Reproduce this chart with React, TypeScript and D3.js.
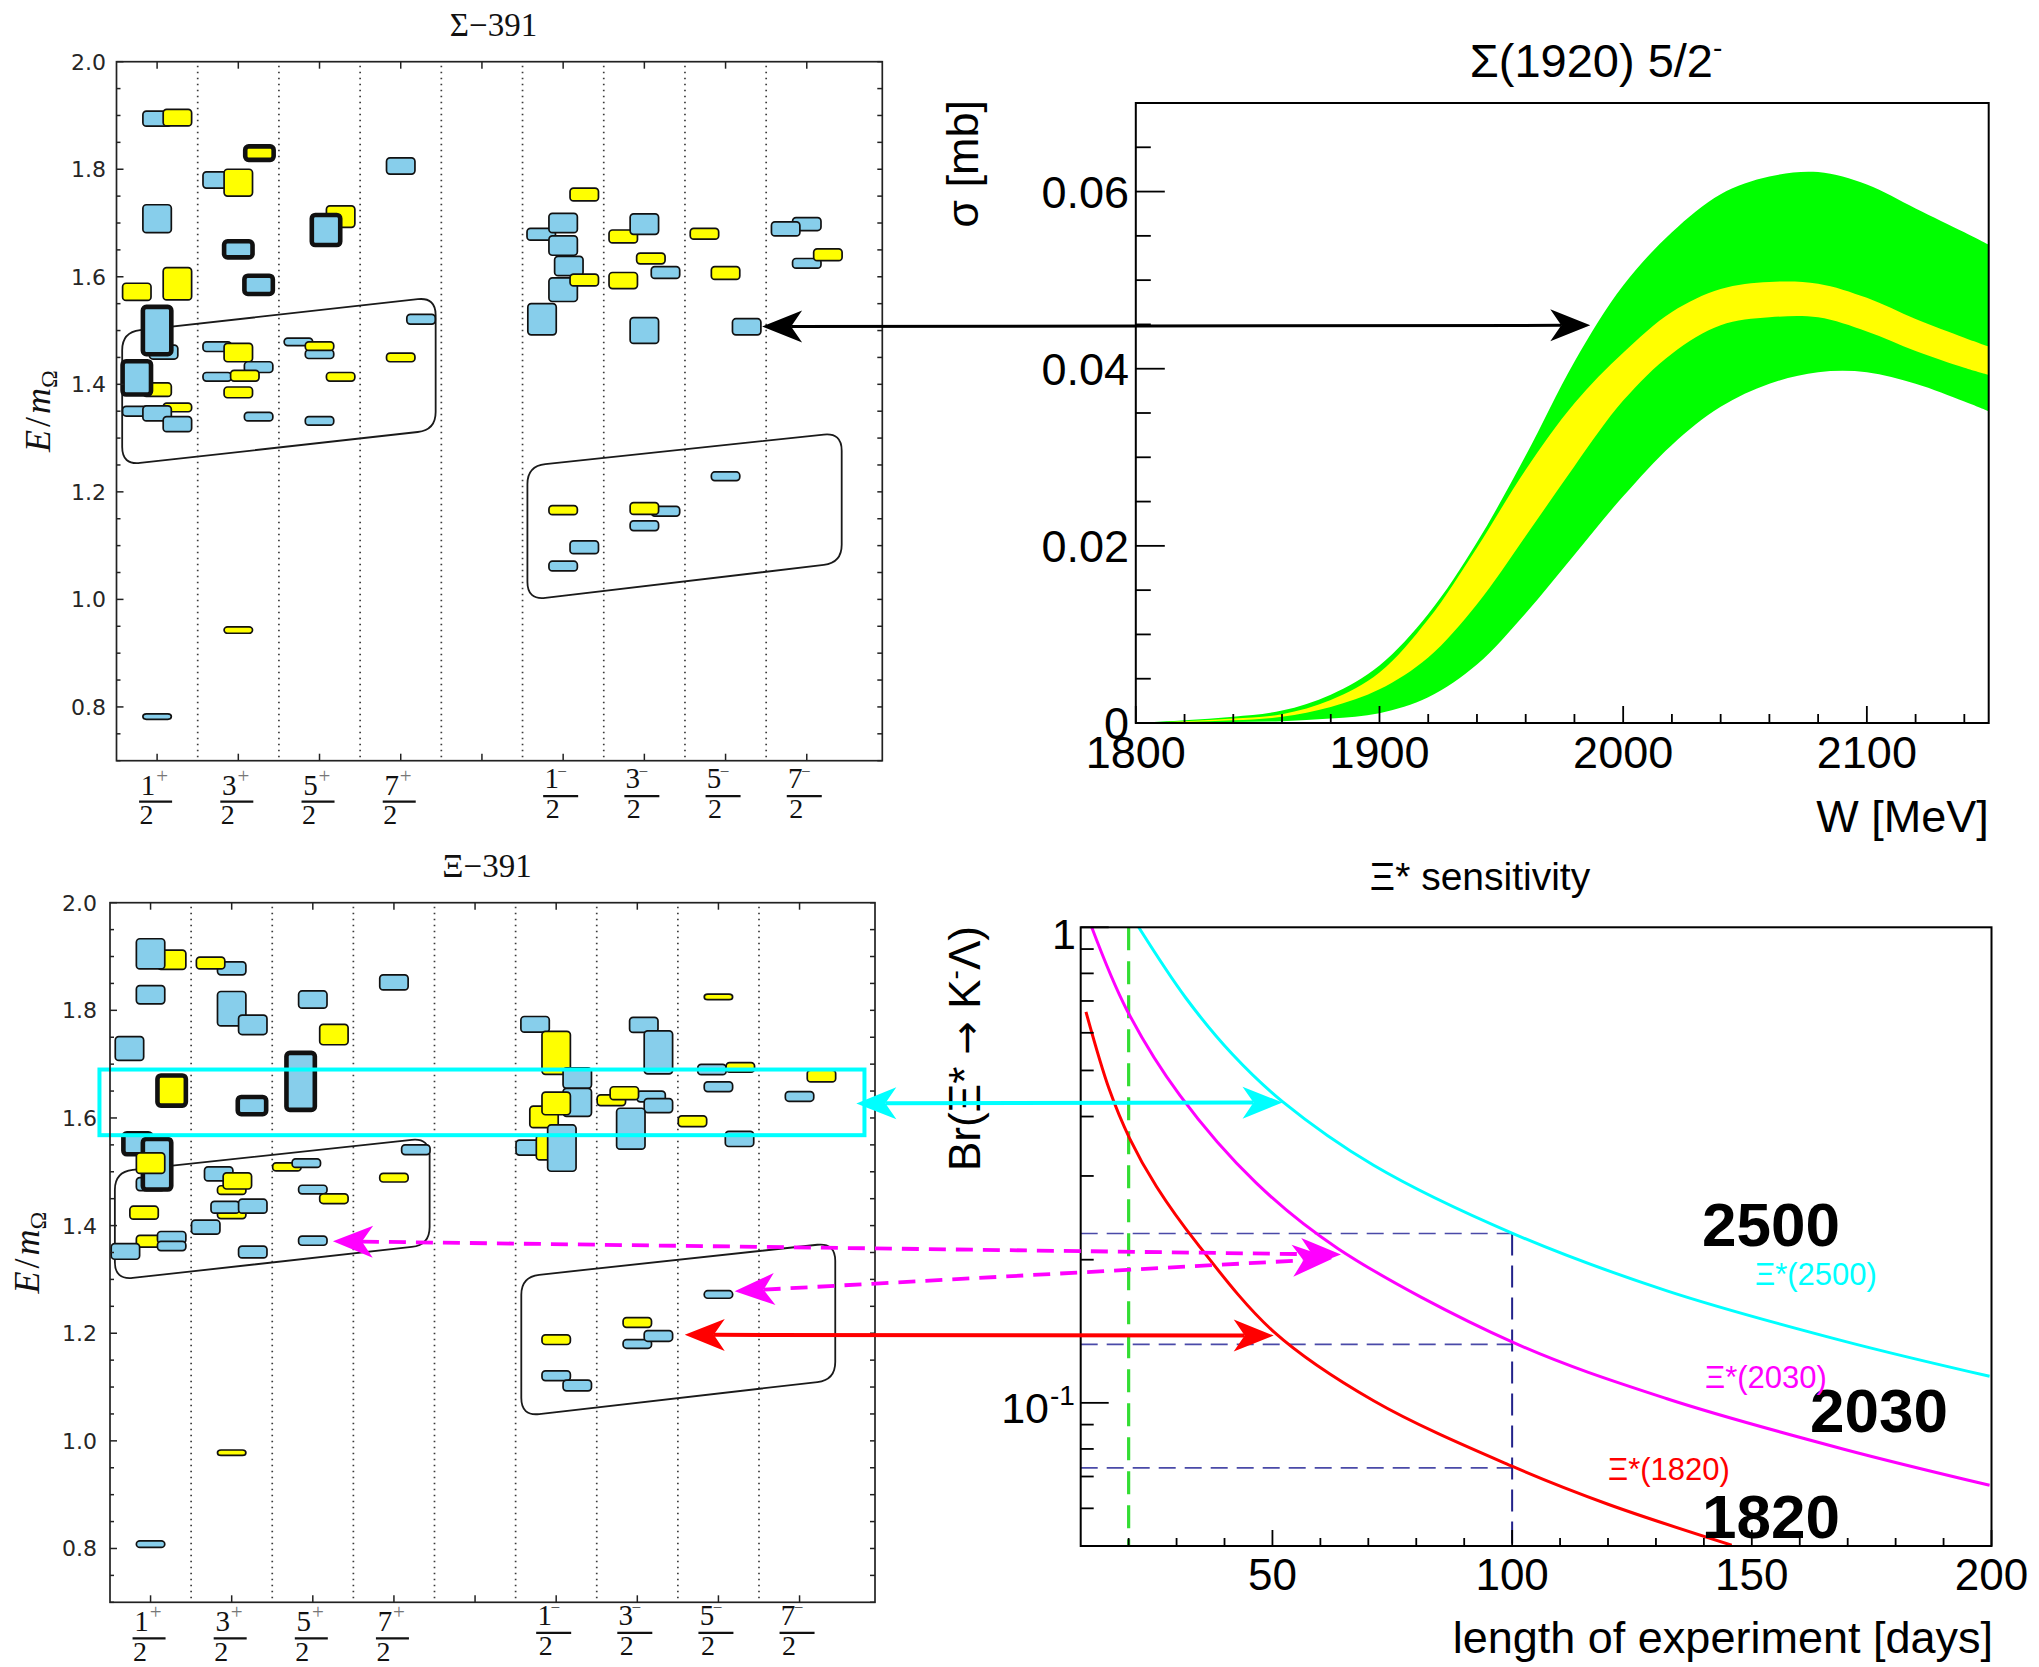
import React from 'react';
import * as d3 from 'd3';

// ---------------- J^P categories of the spectrum panels ----------------
const jpNumerators = ['1', '3', '5', '7', '1', '3', '5', '7'];
const jpParities = ['+', '+', '+', '+', '−', '−', '−', '−'];
const jpSlots = [0, 1, 2, 3, 5, 6, 7, 8];
const energyTicks = [0.8, 1.0, 1.2, 1.4, 1.6, 1.8, 2.0];

// state: [J^P slot, offset in slot, E/m_Omega, half error, flavour (b = octet, y = decuplet), hybrid]
type State = [number, number, number, number, string, number];

const sigmaStates: State[] = [
  [0, 0, 1.894, 0.014, 'b', 0], [0, 0.25, 1.896, 0.0155, 'y', 0], [0, 0, 1.708, 0.026, 'b', 0],
  [0, -0.25, 1.572, 0.016, 'y', 0], [0, 0.25, 1.587, 0.03, 'y', 0], [0, 0.08, 1.46, 0.013, 'b', 0],
  [0, 0, 1.5, 0.044, 'b', 1], [0, 0, 1.39, 0.0125, 'y', 0], [0, -0.25, 1.412, 0.031, 'b', 1],
  [0, 0.25, 1.357, 0.008, 'y', 0], [0, -0.25, 1.35, 0.009, 'b', 0], [0, 0, 1.346, 0.014, 'b', 0],
  [0, 0.25, 1.326, 0.014, 'b', 0], [0, 0, 0.782, 0.005, 'b', 0],
  [1, -0.26, 1.78, 0.015, 'b', 0], [1, 0, 1.775, 0.025, 'y', 0], [1, 0.26, 1.83, 0.0125, 'y', 1],
  [1, 0, 1.651, 0.015, 'b', 1], [1, 0.25, 1.585, 0.017, 'b', 1], [1, -0.26, 1.47, 0.009, 'b', 0],
  [1, 0, 1.459, 0.017, 'y', 0], [1, 0.25, 1.432, 0.01, 'b', 0], [1, -0.26, 1.414, 0.008, 'b', 0],
  [1, 0.08, 1.416, 0.01, 'y', 0], [1, 0, 1.385, 0.01, 'y', 0], [1, 0.25, 1.34, 0.008, 'b', 0],
  [1, 0, 0.943, 0.006, 'y', 0],
  [2, 0.26, 1.712, 0.02, 'y', 0], [2, 0.08, 1.687, 0.028, 'b', 1], [2, -0.26, 1.479, 0.007, 'b', 0],
  [2, 0, 1.456, 0.008, 'b', 0], [2, 0, 1.471, 0.008, 'y', 0], [2, 0.26, 1.414, 0.008, 'y', 0],
  [2, 0, 1.332, 0.008, 'b', 0],
  [3, 0, 1.806, 0.015, 'b', 0], [3, 0.25, 1.521, 0.009, 'b', 0], [3, 0, 1.45, 0.008, 'y', 0],
  [5, 0.26, 1.753, 0.012, 'y', 0], [5, -0.27, 1.679, 0.011, 'b', 0], [5, 0, 1.7, 0.018, 'b', 0],
  [5, 0, 1.658, 0.018, 'b', 0], [5, 0.07, 1.62, 0.018, 'b', 0], [5, 0, 1.576, 0.022, 'b', 0],
  [5, 0.26, 1.594, 0.011, 'y', 0], [5, -0.26, 1.521, 0.029, 'b', 0],
  [5, 0, 1.166, 0.0085, 'y', 0], [5, 0.26, 1.097, 0.012, 'b', 0], [5, 0, 1.062, 0.009, 'b', 0],
  [6, -0.26, 1.675, 0.012, 'y', 0], [6, 0, 1.698, 0.019, 'b', 0], [6, 0.08, 1.634, 0.01, 'y', 0],
  [6, 0.26, 1.608, 0.011, 'b', 0], [6, -0.26, 1.593, 0.015, 'y', 0], [6, 0, 1.5, 0.024, 'b', 0],
  [6, 0.26, 1.164, 0.009, 'b', 0], [6, 0, 1.169, 0.011, 'y', 0], [6, 0, 1.137, 0.009, 'b', 0],
  [7, -0.26, 1.68, 0.01, 'y', 0], [7, 0, 1.607, 0.012, 'y', 0], [7, 0.26, 1.507, 0.015, 'b', 0],
  [7, 0, 1.229, 0.008, 'b', 0],
  [8, 0, 1.698, 0.012, 'b', 0], [8, -0.26, 1.689, 0.013, 'b', 0], [8, 0, 1.625, 0.009, 'b', 0],
  [8, 0.26, 1.641, 0.011, 'y', 0],
];

const xiStates: State[] = [
  [0, 0.26, 1.894, 0.018, 'y', 0], [0, 0, 1.905, 0.028, 'b', 0], [0, 0, 1.829, 0.017, 'b', 0],
  [0, -0.26, 1.729, 0.022, 'b', 0], [0, 0.26, 1.651, 0.028, 'y', 1], [0, 0, 1.477, 0.012, 'b', 0],
  [0, -0.16, 1.552, 0.0195, 'b', 1], [0, 0.08, 1.514, 0.047, 'b', 1], [0, 0, 1.516, 0.019, 'y', 0],
  [0, -0.08, 1.424, 0.012, 'y', 0], [0, 0, 1.371, 0.011, 'y', 0], [0, 0.26, 1.378, 0.011, 'b', 0],
  [0, 0.26, 1.362, 0.0085, 'b', 0], [0, -0.31, 1.352, 0.0145, 'b', 0], [0, 0, 0.808, 0.006, 'b', 0],
  [1, 0, 1.878, 0.012, 'b', 0], [1, -0.26, 1.888, 0.011, 'y', 0], [1, 0, 1.803, 0.032, 'b', 0],
  [1, 0.26, 1.773, 0.018, 'b', 0], [1, 0.25, 1.623, 0.016, 'b', 1], [1, -0.16, 1.496, 0.013, 'b', 0],
  [1, 0, 1.466, 0.008, 'y', 0], [1, 0.07, 1.483, 0.015, 'y', 0], [1, 0, 1.421, 0.008, 'y', 0],
  [1, -0.08, 1.434, 0.011, 'b', 0], [1, 0.26, 1.436, 0.013, 'b', 0], [1, -0.32, 1.397, 0.013, 'b', 0],
  [1, 0.26, 1.351, 0.011, 'b', 0], [1, 0, 0.978, 0.005, 'y', 0],
  [2, 0, 1.82, 0.016, 'b', 0], [2, 0.26, 1.755, 0.019, 'y', 0], [2, -0.15, 1.668, 0.053, 'b', 1],
  [2, -0.32, 1.509, 0.0075, 'y', 0], [2, -0.08, 1.516, 0.008, 'b', 0], [2, 0, 1.467, 0.008, 'b', 0],
  [2, 0.26, 1.45, 0.009, 'y', 0], [2, 0, 1.372, 0.0085, 'b', 0],
  [3, 0, 1.852, 0.014, 'b', 0], [3, 0, 1.489, 0.008, 'y', 0], [3, 0.27, 1.541, 0.009, 'b', 0],
  [5, -0.26, 1.774, 0.0145, 'b', 0], [5, 0, 1.721, 0.04, 'y', 0], [5, 0.26, 1.674, 0.019, 'b', 0],
  [5, 0.26, 1.629, 0.026, 'b', 0], [5, -0.15, 1.602, 0.02, 'y', 0], [5, 0, 1.627, 0.021, 'y', 0],
  [5, -0.32, 1.545, 0.014, 'b', 0], [5, -0.07, 1.545, 0.023, 'y', 0], [5, 0.07, 1.544, 0.043, 'b', 0],
  [5, 0, 1.188, 0.009, 'y', 0], [5, 0, 1.121, 0.009, 'b', 0], [5, 0.26, 1.103, 0.01, 'b', 0],
  [6, 0.08, 1.773, 0.014, 'b', 0], [6, 0.26, 1.722, 0.04, 'b', 0], [6, -0.32, 1.633, 0.01, 'y', 0],
  [6, 0.17, 1.64, 0.01, 'b', 0], [6, -0.16, 1.646, 0.012, 'y', 0], [6, 0.26, 1.623, 0.013, 'b', 0],
  [6, -0.08, 1.58, 0.038, 'b', 0], [6, 0, 1.22, 0.009, 'y', 0], [6, 0, 1.18, 0.008, 'b', 0],
  [6, 0.26, 1.195, 0.01, 'b', 0],
  [7, 0, 1.825, 0.005, 'y', 0], [7, -0.08, 1.69, 0.0095, 'b', 0], [7, 0.27, 1.694, 0.009, 'y', 0],
  [7, 0, 1.658, 0.009, 'b', 0], [7, -0.32, 1.594, 0.01, 'y', 0], [7, 0.26, 1.561, 0.014, 'b', 0],
  [7, 0, 1.272, 0.007, 'b', 0],
  [8, 0.27, 1.678, 0.011, 'y', 0], [8, 0, 1.64, 0.009, 'b', 0],
];

// grouping outlines (slot, E/m_Omega)
const sigmaPositiveRegion = [[-0.43, 1.497], [3.43, 1.562], [3.43, 1.315], [-0.43, 1.25]];
const sigmaNegativeRegion = [[4.56, 1.248], [8.43, 1.31], [8.43, 1.068], [4.56, 0.999]];
const xiPositiveRegion = [[-0.44, 1.5], [3.44, 1.563], [3.44, 1.364], [-0.44, 1.299]];
const xiNegativeRegion = [[4.57, 1.305], [8.44, 1.368], [8.44, 1.113], [4.57, 1.046]];
const xiHighlightSlots = [-0.63, 8.8];
const xiHighlightEnergy = [1.568, 1.69];

// ---------------- Sigma(1920) 5/2- cross section band ----------------
const wValues = [1800, 1820, 1840, 1860, 1880, 1900, 1920, 1940, 1960, 1980, 2000, 2020, 2040, 2060, 2080, 2100, 2120, 2140, 2150];
const greenUpper = [0, 0.0003, 0.0007, 0.0014, 0.0032, 0.0065, 0.0123, 0.0204, 0.0302, 0.0408, 0.0494, 0.0554, 0.0597, 0.0617, 0.0622, 0.0608, 0.0581, 0.0554, 0.054];
const yellowUpper = [0, 0.0002, 0.0005, 0.001, 0.0026, 0.0057, 0.0117, 0.0198, 0.0286, 0.0361, 0.0418, 0.0464, 0.049, 0.0498, 0.0496, 0.048, 0.0456, 0.0435, 0.0425];
const yellowLower = [0, 0.0001, 0.0003, 0.0007, 0.0018, 0.0038, 0.0074, 0.0134, 0.0211, 0.029, 0.0364, 0.0417, 0.0449, 0.0458, 0.0458, 0.0442, 0.042, 0.0401, 0.0393];
const greenLower = [0, 0, 0.0001, 0.0002, 0.0005, 0.0011, 0.0029, 0.0066, 0.0124, 0.019, 0.0256, 0.0314, 0.0357, 0.0383, 0.0396, 0.0396, 0.0383, 0.0363, 0.0352];
const crossXTicks = [1800, 1900, 2000, 2100];
const crossYTicks = [0, 0.02, 0.04, 0.06];

// ---------------- Xi* sensitivity ----------------
const xi2500Days = [22.1, 31.9, 41.7, 52.1, 71.1, 100.2, 132.3, 169, 199.6];
const xi2500Br = [1.0, 0.711, 0.54, 0.43, 0.316, 0.227, 0.172, 0.135, 0.1137];
const xi2030Days = [12.3, 19.6, 30.7, 46.6, 63.7, 100.2, 132.3, 169, 199.6];
const xi2030Br = [1.0, 0.671, 0.443, 0.29, 0.211, 0.134, 0.102, 0.08, 0.0671];
const xi1820Days = [11.1, 15.9, 20.2, 25.8, 34.4, 50.3, 71.1, 100.2, 120, 145.8];
const xi1820Br = [0.664, 0.458, 0.36, 0.285, 0.2156, 0.141, 0.101, 0.0734, 0.0612, 0.0502];
const sensXTicks = [50, 100, 150, 200];
const referenceDays = [20, 100];
const referenceBr = [0.227, 0.1327, 0.073];

// ---------------- fonts ----------------
const SANS = "'Liberation Sans', Arial, sans-serif";
const MPL = "'DejaVu Sans', sans-serif";
const SERIF = "'Liberation Serif', 'Times New Roman', serif";

// ---------------- scales ----------------
const sigmaFrame = { l: 116.5, r: 882.3, t: 61.7, b: 760.7 };
const xiFrame = { l: 110, r: 875, t: 902.7, b: 1602.3 };
const slotDomain = [-0.5, 8.93];
const xSig = d3.scaleLinear().domain(slotDomain).range([sigmaFrame.l, sigmaFrame.r]);
const ySig = d3.scaleLinear().domain([0.7, 2.0]).range([sigmaFrame.b, sigmaFrame.t]);
const xXi = d3.scaleLinear().domain(slotDomain).range([xiFrame.l, xiFrame.r]);
const yXi = d3.scaleLinear().domain([0.7, 2.0]).range([xiFrame.b, xiFrame.t]);

const crossFrame = { l: 1135.8, r: 1988.7, t: 103, b: 723 };
const xW = d3.scaleLinear().domain([1800, 2150]).range([crossFrame.l, crossFrame.r]);
const yCs = d3.scaleLinear().domain([0, 0.07]).range([crossFrame.b, crossFrame.t]);

const sensFrame = { l: 1080.7, r: 1991.5, t: 927.3, b: 1546 };
const xDays = d3.scaleLinear().domain([10, 200]).range([sensFrame.l, sensFrame.r]);
const yBr = d3.scaleLog().domain([0.05, 1]).range([sensFrame.b, sensFrame.t]);

function roundedPath(pts: number[][], r: number) {
  const n = pts.length;
  let d = '';
  for (let i = 0; i < n; i++) {
    const p = pts[i], a = pts[(i + n - 1) % n], b = pts[(i + 1) % n];
    const la = Math.hypot(a[0] - p[0], a[1] - p[1]);
    const lb = Math.hypot(b[0] - p[0], b[1] - p[1]);
    const s = [p[0] + ((a[0] - p[0]) * r) / la, p[1] + ((a[1] - p[1]) * r) / la];
    const e = [p[0] + ((b[0] - p[0]) * r) / lb, p[1] + ((b[1] - p[1]) * r) / lb];
    d += `${i === 0 ? 'M' : 'L'}${s[0]},${s[1]}Q${p[0]},${p[1]} ${e[0]},${e[1]}`;
  }
  return d + 'Z';
}

function SpectrumPanel(props: any) {
  const { states, regions, x, y, frame, title, titleX, titleY, yLabelX, tickLabelX, highlight, fracShift } = props;
  const w = x(0.35) - x(0);
  const allTicks = d3.range(14, 41).map((k) => +(k * 0.05).toFixed(2));
  const isMajor = (v: number) => energyTicks.some((t) => Math.abs(t - v) < 1e-6);
  const tickColor = '#222';
  const fb = frame.b - fracShift;
  return (
    <g>
      {d3.range(8).map((i) => (
        <line key={'sep' + i} x1={x(i + 0.5)} x2={x(i + 0.5)} y1={frame.t + 4} y2={frame.b}
          stroke="#3a3a3a" strokeWidth={1.7} strokeDasharray="1.6 4.4" />
      ))}
      {regions.map((r: number[][], i: number) => (
        <path key={'reg' + i} d={roundedPath(r.map((p) => [x(p[0]), y(p[1])]), 18)}
          fill="none" stroke="#1a1a1a" strokeWidth={1.8} />
      ))}
      {states.map((s: State, i: number) => {
        const cx = x(s[0] + s[1]);
        const top = y(s[2] + s[3]);
        const h = Math.max(y(s[2] - s[3]) - top, 4);
        return (
          <rect key={'st' + i} x={cx - w / 2} y={top} width={w} height={h} rx={3.5}
            fill={s[4] === 'b' ? '#87CEEB' : '#FFFF00'} stroke="#111"
            strokeWidth={s[5] ? 4.6 : 1.7} />
        );
      })}
      {highlight ? (
        <rect x={x(highlight[0])} y={y(highlight[3])} width={x(highlight[1]) - x(highlight[0])}
          height={y(highlight[2]) - y(highlight[3])} fill="none" stroke="#00FFFF" strokeWidth={4} />
      ) : null}
      <rect x={frame.l} y={frame.t} width={frame.r - frame.l} height={frame.b - frame.t}
        fill="none" stroke="#222" strokeWidth={1.7} />
      {allTicks.map((v) => (
        <g key={'yt' + v}>
          <line x1={frame.l} x2={frame.l + (isMajor(v) ? 7 : 4)} y1={y(v)} y2={y(v)} stroke={tickColor} strokeWidth={1.5} />
          <line x1={frame.r} x2={frame.r - 5} y1={y(v)} y2={y(v)} stroke={tickColor} strokeWidth={1.5} />
        </g>
      ))}
      {d3.range(9).map((i) => (
        <g key={'xt' + i}>
          <line x1={x(i)} x2={x(i)} y1={frame.b} y2={frame.b - 7} stroke={tickColor} strokeWidth={1.5} />
          <line x1={x(i)} x2={x(i)} y1={frame.t} y2={frame.t + 7} stroke={tickColor} strokeWidth={1.5} />
        </g>
      ))}
      {energyTicks.map((v) => (
        <text key={'yl' + v} x={tickLabelX} y={y(v) + 8} textAnchor="end" fontFamily={MPL}
          fontSize={22} fill="#262626">{v.toFixed(1)}</text>
      ))}
      {jpSlots.map((slot, i) => {
        const tx = x(slot);
        const pos = jpParities[i] === '+';
        const nb = fb + (pos ? 34 : 27.5);
        const bar = fb + (pos ? 41 : 35.5);
        const db = fb + (pos ? 63.5 : 57.5);
        return (
          <g key={'jp' + i} fontFamily={SERIF} fill="#111">
            <text x={tx - (pos ? 9 : 11.5)} y={nb} textAnchor="middle" fontSize={29}>{jpNumerators[i]}</text>
            <text x={tx + (pos ? 5 : -1)} y={fb + (pos ? 22 : 16)} textAnchor="middle" fontSize={pos ? 21 : 17}
              fill={pos ? '#777' : '#333'}>{jpParities[i]}</text>
            <line x1={tx - (pos ? 18 : 20)} x2={tx + 15} y1={bar} y2={bar} stroke="#111" strokeWidth={2.2} />
            <text x={tx - 10.5} y={db} textAnchor="middle" fontSize={28}>2</text>
          </g>
        );
      })}
      <text x={titleX} y={titleY} textAnchor="middle" fontFamily={SERIF} fontSize={33} fill="#111">{title}</text>
      <text transform={`translate(${yLabelX},${(frame.t + frame.b) / 2}) rotate(-90)`} textAnchor="middle"
        fontFamily={SERIF} fontSize={36} fill="#111">
        <tspan fontStyle="italic">E</tspan>
        <tspan dx={3}>/</tspan>
        <tspan dx={3} fontStyle="italic">m</tspan>
        <tspan fontSize={24} dy={7}>Ω</tspan>
      </text>
    </g>
  );
}

function CrossSectionPanel() {
  const f = crossFrame;
  const band = (lo: number[], hi: number[]) =>
    d3.area<number>()
      .x((_, i) => xW(wValues[i]))
      .y0((_, i) => yCs(lo[i]))
      .y1((_, i) => yCs(hi[i]))
      .curve(d3.curveCatmullRom.alpha(0.5))(wValues) || '';
  const xMinor = d3.range(1800, 2150, 20);
  const yMinor = d3.range(0, 71, 5).map((k) => k / 1000);
  return (
    <g fontFamily={SANS}>
      <defs>
        <clipPath id="crossClip">
          <rect x={f.l} y={f.t} width={f.r - f.l} height={f.b - f.t} />
        </clipPath>
      </defs>
      <g clipPath="url(#crossClip)">
        <path d={band(greenLower, greenUpper)} fill="#00FF00" />
        <path d={band(yellowLower, yellowUpper)} fill="#FFFF00" />
      </g>
      <rect x={f.l} y={f.t} width={f.r - f.l} height={f.b - f.t} fill="none" stroke="#000" strokeWidth={2} />
      {xMinor.map((v) => {
        const major = crossXTicks.includes(v);
        return <line key={'cx' + v} x1={xW(v)} x2={xW(v)} y1={f.b} y2={f.b - (major ? 17 : 9)} stroke="#000" strokeWidth={1.8} />;
      })}
      {yMinor.map((v) => {
        const major = crossYTicks.some((t) => Math.abs(t - v) < 1e-9);
        return <line key={'cy' + v} x1={f.l} x2={f.l + (major ? 29 : 15)} y1={yCs(v)} y2={yCs(v)} stroke="#000" strokeWidth={1.8} />;
      })}
      {crossXTicks.map((v) => (
        <text key={'cxl' + v} x={xW(v)} y={f.b + 45} textAnchor="middle" fontSize={45}>{v}</text>
      ))}
      {crossYTicks.map((v) => (
        <text key={'cyl' + v} x={1129} y={yCs(v) + 16} textAnchor="end" fontSize={45}>{v === 0 ? '0' : v.toFixed(2)}</text>
      ))}
      <text x={1596} y={77} textAnchor="middle" fontSize={47}>
        Σ(1920) 5/2<tspan fontSize={28} dy={-20}>-</tspan>
      </text>
      <text transform={`translate(978,100) rotate(-90)`} textAnchor="end" fontSize={45}>σ [mb]</text>
      <text x={f.r} y={832} textAnchor="end" fontSize={45}>W [MeV]</text>
    </g>
  );
}

function SensitivityPanel() {
  const f = sensFrame;
  const line = (xs: number[], ys: number[]) =>
    d3.line<number>()
      .x((_, i) => xDays(xs[i]))
      .y((_, i) => yBr(ys[i]))
      .curve(d3.curveCatmullRom.alpha(0.5))(xs) || '';
  const xMinor = d3.range(20, 201, 10);
  const yMinor = [0.05, 0.06, 0.07, 0.08, 0.09, 0.1, 0.2, 0.3, 0.4, 0.5, 0.6, 0.7, 0.8, 0.9, 1];
  return (
    <g fontFamily={SANS}>
      <defs>
        <clipPath id="sensClip">
          <rect x={f.l} y={f.t} width={f.r - f.l} height={f.b - f.t} />
        </clipPath>
      </defs>
      <g clipPath="url(#sensClip)">
        {referenceBr.map((v, i) => (
          <line key={'rh' + i} x1={f.l} x2={xDays(referenceDays[1])} y1={yBr(v)} y2={yBr(v)}
            stroke="#4a4aa8" strokeWidth={1.6} strokeDasharray="17 9" />
        ))}
        <line x1={xDays(referenceDays[1])} x2={xDays(referenceDays[1])} y1={yBr(referenceBr[0])} y2={f.b}
          stroke="#22228a" strokeWidth={2} strokeDasharray="22 10" />
        <line x1={xDays(referenceDays[0])} x2={xDays(referenceDays[0])} y1={f.t} y2={f.b}
          stroke="#33dd33" strokeWidth={3.2} strokeDasharray="23 11" />
        <path d={line(xi2500Days, xi2500Br)} fill="none" stroke="#00FFFF" strokeWidth={3} />
        <path d={line(xi2030Days, xi2030Br)} fill="none" stroke="#FF00FF" strokeWidth={3} />
        <path d={line(xi1820Days, xi1820Br)} fill="none" stroke="#FF0000" strokeWidth={3} />
      </g>
      <rect x={f.l} y={f.t} width={f.r - f.l} height={f.b - f.t} fill="none" stroke="#000" strokeWidth={2} />
      {xMinor.map((v) => {
        const major = sensXTicks.includes(v);
        return <line key={'sx' + v} x1={xDays(v)} x2={xDays(v)} y1={f.b} y2={f.b - (major ? 16 : 8)} stroke="#000" strokeWidth={1.8} />;
      })}
      {yMinor.map((v) => {
        const major = v === 0.1 || v === 1;
        return <line key={'sy' + v} x1={f.l} x2={f.l + (major ? 28 : 13)} y1={yBr(v)} y2={yBr(v)} stroke="#000" strokeWidth={1.8} />;
      })}
      {sensXTicks.map((v) => (
        <text key={'sxl' + v} x={xDays(v)} y={1590} textAnchor="middle" fontSize={44}>{v}</text>
      ))}
      <text x={1076} y={yBr(1) + 22} textAnchor="end" fontSize={43}>1</text>
      <text x={1049} y={yBr(0.1) + 20} textAnchor="end" fontSize={43}>10</text>
      <text x={1050} y={yBr(0.1) + 2} textAnchor="start" fontSize={28}>-1</text>
      <text x={1480} y={890} textAnchor="middle" fontSize={39}>Ξ* sensitivity</text>
      <text transform={`translate(980,926) rotate(-90)`} textAnchor="end" fontSize={44}>
        Br(Ξ* <tspan fontFamily={MPL} fontSize={40}>→</tspan> K<tspan fontSize={28} dy={-16}>-</tspan><tspan dy={16}>Λ)</tspan>
      </text>
      <text x={1993} y={1653} textAnchor="end" fontSize={45}>length of experiment [days]</text>
      <text x={1702} y={1246} fontSize={62} fontWeight="bold">2500</text>
      <text x={1810} y={1432} fontSize={62} fontWeight="bold">2030</text>
      <text x={1702} y={1538} fontSize={62} fontWeight="bold">1820</text>
      <text x={1755} y={1285} fontSize={31} fill="#00FFFF">Ξ*(2500)</text>
      <text x={1705} y={1388} fontSize={31} fill="#FF00FF">Ξ*(2030)</text>
      <text x={1608} y={1480} fontSize={31} fill="#FF0000">Ξ*(1820)</text>
    </g>
  );
}

function DoubleArrow(props: any) {
  const { a, b, color, width, dash } = props;
  const dx = b[0] - a[0], dy = b[1] - a[1];
  const len = Math.hypot(dx, dy);
  const ux = dx / len, uy = dy / len;
  const L = 40, W = 16, N = 29;
  const head = (t: number[], sx: number, sy: number) => {
    const px = -sy, py = sx;
    return `M${t[0]},${t[1]}L${t[0] - sx * L + px * W},${t[1] - sy * L + py * W}L${t[0] - sx * N},${t[1] - sy * N}L${t[0] - sx * L - px * W},${t[1] - sy * L - py * W}Z`;
  };
  return (
    <g>
      <line x1={a[0] + ux * N} y1={a[1] + uy * N} x2={b[0] - ux * N} y2={b[1] - uy * N}
        stroke={color} strokeWidth={width} strokeDasharray={dash || undefined} />
      <path d={head(a, -ux, -uy)} fill={color} />
      <path d={head(b, ux, uy)} fill={color} />
    </g>
  );
}

// arrow end points: [panel slot, E/m_Omega] on the left, panel values on the right
const sigmaLink = [[7.45, 1.5075], [1986.5, 0.0449]];
const cyanLink = [[8.7, 1.627], [52.1, 0.428]];
const magentaLinkA = [[2.248, 1.371], [64.3, 0.205]];
const magentaLinkB = [[7.2, 1.278], [62.5, 0.201]];
const redLink = [[6.585, 1.197], [50.26, 0.1385]];

export default function App() {
  const xiPt = (p: number[]) => [xXi(p[0]), yXi(p[1])];
  const sensPt = (p: number[]) => [xDays(p[0]), yBr(p[1])];
  return (
    <svg width={2039} height={1667} viewBox="0 0 2039 1667" xmlns="http://www.w3.org/2000/svg"
      style={{ position: 'absolute', left: 0, top: 0, background: '#fff' }}>
      <rect width={2039} height={1667} fill="#fff" />
      <SpectrumPanel states={sigmaStates} regions={[sigmaPositiveRegion, sigmaNegativeRegion]} x={xSig} y={ySig}
        frame={sigmaFrame} title="Σ−391" titleX={493.5} titleY={36} yLabelX={50} tickLabelX={106} fracShift={0} />
      <SpectrumPanel states={xiStates} regions={[xiPositiveRegion, xiNegativeRegion]} x={xXi} y={yXi}
        frame={xiFrame} title="Ξ−391" titleX={487} titleY={877} yLabelX={39} tickLabelX={97} fracShift={5}
        highlight={[xiHighlightSlots[0], xiHighlightSlots[1], xiHighlightEnergy[0], xiHighlightEnergy[1]]} />
      <CrossSectionPanel />
      <SensitivityPanel />
      <DoubleArrow a={[xSig(sigmaLink[0][0]), ySig(sigmaLink[0][1])]} b={[xW(sigmaLink[1][0]), yCs(sigmaLink[1][1])]}
        color="#000" width={3} />
      <DoubleArrow a={xiPt(cyanLink[0])} b={sensPt(cyanLink[1])} color="#00FFFF" width={4} />
      <DoubleArrow a={xiPt(magentaLinkA[0])} b={sensPt(magentaLinkA[1])} color="#FF00FF" width={3.8} dash="17 10" />
      <DoubleArrow a={xiPt(magentaLinkB[0])} b={sensPt(magentaLinkB[1])} color="#FF00FF" width={3.8} dash="17 10" />
      <DoubleArrow a={xiPt(redLink[0])} b={sensPt(redLink[1])} color="#FF0000" width={4} />
    </svg>
  );
}
